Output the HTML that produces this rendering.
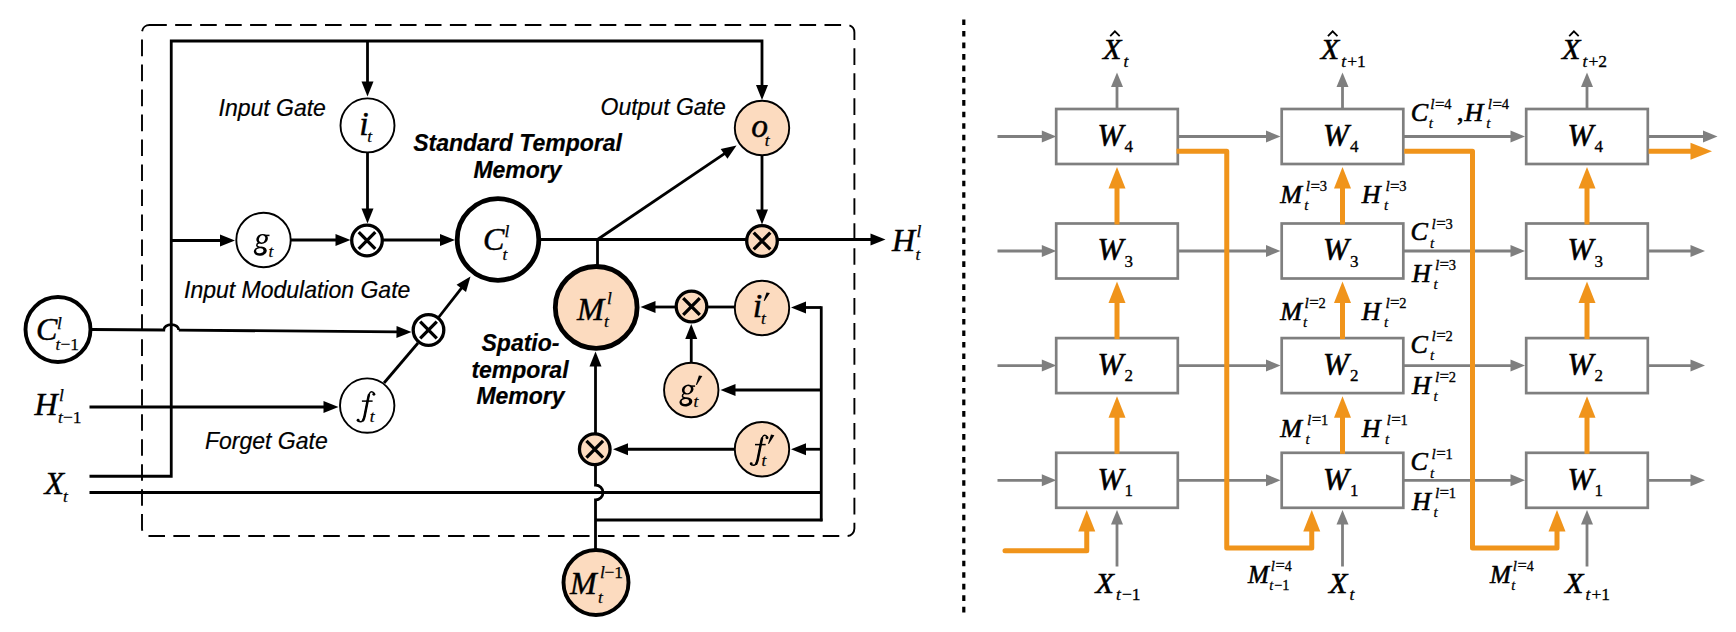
<!DOCTYPE html>
<html><head><meta charset="utf-8"><title>diagram</title>
<style>
html,body{margin:0;padding:0;background:#fff;}
svg{display:block;}
text{fill:#000;stroke:#000;}
.mi{font-family:"Liberation Serif",serif;font-style:italic;}
.mr{font-family:"Liberation Serif",serif;}
.si{font-family:"Liberation Sans",sans-serif;font-style:italic;}
.sbi{font-family:"Liberation Sans",sans-serif;font-style:italic;font-weight:bold;}
</style></head>
<body>
<svg width="1736" height="632" viewBox="0 0 1736 632">
<rect x="0" y="0" width="1736" height="632" fill="#fff"/>
<path d="M150.2,25 L846.9,25 A7.5,7.5 0 0 1 854.4,32.5 L854.4,528.5 A7.5,7.5 0 0 1 846.9,536 L149.5,536 A7.5,7.5 0 0 1 142,528.5 L142,32.5 A7.5,7.5 0 0 1 149.5,25 L150.2,25" fill="none" stroke="#000" stroke-width="1.9" stroke-dasharray="16.6 8.374"/>
<line x1="963.8" y1="19.5" x2="963.8" y2="612.4" stroke="#000" stroke-width="3.2" stroke-dasharray="5.6 5.916"/>
<path d="M89.50,476.25 L171.25,476.25 L171.25,41.00 L762.00,41.00 L762.00,86.00" fill="none" stroke="#000" stroke-width="2.8" stroke-linejoin="miter"/><polygon points="762.00,100.00 756.00,85.00 768.00,85.00" fill="#000"/>
<path d="M367.50,41.00 L367.50,82.50" fill="none" stroke="#000" stroke-width="2.8" /><polygon points="367.50,96.50 361.50,81.50 373.50,81.50" fill="#000"/>
<path d="M367.50,152.00 L367.50,209.50" fill="none" stroke="#000" stroke-width="2.8" /><polygon points="367.50,223.50 361.50,208.50 373.50,208.50" fill="#000"/>
<path d="M171.25,240.50 L221.00,240.50" fill="none" stroke="#000" stroke-width="2.8" /><polygon points="235.00,240.50 220.00,246.50 220.00,234.50" fill="#000"/>
<path d="M291.00,240.00 L336.50,240.00" fill="none" stroke="#000" stroke-width="2.8" /><polygon points="350.50,240.00 335.50,246.00 335.50,234.00" fill="#000"/>
<path d="M383.00,240.00 L441.00,240.00" fill="none" stroke="#000" stroke-width="2.8" /><polygon points="455.00,240.00 440.00,246.00 440.00,234.00" fill="#000"/>
<path d="M538.00,239.50 L746.00,239.50" fill="none" stroke="#000" stroke-width="2.8" />
<path d="M778.00,239.50 L871.50,239.50" fill="none" stroke="#000" stroke-width="2.8" /><polygon points="885.50,239.50 870.50,245.50 870.50,233.50" fill="#000"/>
<path d="M762.00,155.00 L762.00,210.50" fill="none" stroke="#000" stroke-width="2.8" /><polygon points="762.00,224.50 756.00,209.50 768.00,209.50" fill="#000"/>
<path d="M597.50,239.50 L597.50,266.00" fill="none" stroke="#000" stroke-width="2.8" />
<path d="M597.50,239.50 L724.90,153.34" fill="none" stroke="#000" stroke-width="2.8" /><polygon points="736.50,145.50 727.44,158.87 720.71,148.93" fill="#000"/>
<path d="M92,329.5 L163.75,330 A7.5,5.5 0 0 1 178.75,330.1" fill="none" stroke="#000" stroke-width="2.8"/>
<path d="M178.75,330.10 L397.50,331.89" fill="none" stroke="#000" stroke-width="2.8" /><polygon points="411.50,332.00 396.45,337.88 396.55,325.88" fill="#000"/>
<path d="M89.50,407.00 L324.50,407.00" fill="none" stroke="#000" stroke-width="2.8" /><polygon points="338.50,407.00 323.50,413.00 323.50,401.00" fill="#000"/>
<path d="M384.00,383.00 L418.00,343.00" fill="none" stroke="#000" stroke-width="2.8" />
<path d="M438.50,317.50 L461.89,287.54" fill="none" stroke="#000" stroke-width="2.8" /><polygon points="470.50,276.50 466.00,292.02 456.54,284.63" fill="#000"/>
<path d="M89.50,492.50 L821.25,492.50" fill="none" stroke="#000" stroke-width="2.8" />
<path d="M821.25,306.25 L821.25,521.25" fill="none" stroke="#000" stroke-width="2.8" />
<path d="M595.50,520.00 L822.50,520.00" fill="none" stroke="#000" stroke-width="2.8" />
<path d="M821.25,307.50 L805.00,307.50" fill="none" stroke="#000" stroke-width="2.8" /><polygon points="791.00,307.50 806.00,301.50 806.00,313.50" fill="#000"/>
<path d="M821.25,390.00 L734.50,390.00" fill="none" stroke="#000" stroke-width="2.8" /><polygon points="720.50,390.00 735.50,384.00 735.50,396.00" fill="#000"/>
<path d="M821.25,449.25 L805.00,449.25" fill="none" stroke="#000" stroke-width="2.8" /><polygon points="791.00,449.25 806.00,443.25 806.00,455.25" fill="#000"/>
<path d="M734.00,449.25 L627.00,449.25" fill="none" stroke="#000" stroke-width="2.8" /><polygon points="613.00,449.25 628.00,443.25 628.00,455.25" fill="#000"/>
<path d="M707.00,307.00 L735.00,307.00" fill="none" stroke="#000" stroke-width="2.8" />
<path d="M675.00,307.00 L654.50,307.00" fill="none" stroke="#000" stroke-width="2.8" /><polygon points="640.50,307.00 655.50,301.00 655.50,313.00" fill="#000"/>
<path d="M691.25,362.00 L691.25,338.00" fill="none" stroke="#000" stroke-width="2.8" /><polygon points="691.25,324.00 697.25,339.00 685.25,339.00" fill="#000"/>
<path d="M595.5,550 L595.5,500 A7.5,7.5 0 0 0 595.5,485 L595.5,466" fill="none" stroke="#000" stroke-width="2.8"/>
<path d="M595.50,433.00 L595.50,365.50" fill="none" stroke="#000" stroke-width="2.8" /><polygon points="595.50,351.50 601.50,366.50 589.50,366.50" fill="#000"/>
<circle cx="367.5" cy="125.4" r="27.0" fill="#fff" stroke="#000" stroke-width="1.9"/>
<circle cx="263.5" cy="240" r="27.2" fill="#fff" stroke="#000" stroke-width="1.9"/>
<circle cx="367.2" cy="405.6" r="27.2" fill="#fff" stroke="#000" stroke-width="1.9"/>
<circle cx="762" cy="128" r="27.2" fill="#FCDBBF" stroke="#000" stroke-width="1.9"/>
<circle cx="762" cy="308" r="27.2" fill="#FCDBBF" stroke="#000" stroke-width="1.9"/>
<circle cx="691.25" cy="390" r="27.2" fill="#FCDBBF" stroke="#000" stroke-width="1.9"/>
<circle cx="762" cy="449.25" r="27.2" fill="#FCDBBF" stroke="#000" stroke-width="1.9"/>
<circle cx="498" cy="239.5" r="40.8" fill="#fff" stroke="#000" stroke-width="4.8"/>
<circle cx="596.2" cy="307.4" r="40.9" fill="#FCDBBF" stroke="#000" stroke-width="4.8"/>
<circle cx="58" cy="329.5" r="32.5" fill="#fff" stroke="#000" stroke-width="3.9"/>
<circle cx="596" cy="582.5" r="32.5" fill="#FCDBBF" stroke="#000" stroke-width="3.9"/>
<circle cx="367" cy="240.5" r="15.3" fill="#fff" stroke="#000" stroke-width="3.3"/><path d="M358.7,232.2 L375.3,248.8 M375.3,232.2 L358.7,248.8" stroke="#000" stroke-width="3.3" fill="none"/>
<circle cx="428.5" cy="330" r="15.3" fill="#fff" stroke="#000" stroke-width="3.3"/><path d="M420.2,321.7 L436.8,338.3 M436.8,321.7 L420.2,338.3" stroke="#000" stroke-width="3.3" fill="none"/>
<circle cx="762" cy="241" r="15.3" fill="#FCDBBF" stroke="#000" stroke-width="3.3"/><path d="M753.7,232.7 L770.3,249.3 M770.3,232.7 L753.7,249.3" stroke="#000" stroke-width="3.3" fill="none"/>
<circle cx="691.5" cy="306.5" r="15.3" fill="#FCDBBF" stroke="#000" stroke-width="3.3"/><path d="M683.2,298.2 L699.8,314.8 M699.8,298.2 L683.2,314.8" stroke="#000" stroke-width="3.3" fill="none"/>
<circle cx="594.75" cy="449.25" r="15.3" fill="#FCDBBF" stroke="#000" stroke-width="3.3"/><path d="M586.45,440.95 L603.05,457.55 M603.05,440.95 L586.45,457.55" stroke="#000" stroke-width="3.3" fill="none"/>
<text x="218.5" y="116" font-size="23" class="si" text-anchor="start" stroke-width="0.20" >Input Gate</text>
<text x="600.5" y="115" font-size="23" class="si" text-anchor="start" stroke-width="0.20" >Output Gate</text>
<text x="184" y="297.5" font-size="23" class="si" text-anchor="start" stroke-width="0.20" >Input Modulation Gate</text>
<text x="205" y="448.5" font-size="23" class="si" text-anchor="start" stroke-width="0.20" >Forget Gate</text>
<text x="517.5" y="150.5" font-size="23" class="sbi" text-anchor="middle" stroke-width="0.20" >Standard Temporal</text>
<text x="517.5" y="177.5" font-size="23" class="sbi" text-anchor="middle" stroke-width="0.20" >Memory</text>
<text x="520.5" y="351.2" font-size="23" class="sbi" text-anchor="middle" stroke-width="0.20" >Spatio-</text>
<text x="520" y="378.2" font-size="23" class="sbi" text-anchor="middle" stroke-width="0.20" >temporal</text>
<text x="520.5" y="404.4" font-size="23" class="sbi" text-anchor="middle" stroke-width="0.20" >Memory</text>
<text x="359.2" y="135.3" font-size="34" class="mi" text-anchor="start" stroke-width="0.45" >i</text>
<text x="367.3" y="142.3" font-size="17.5" class="mi" text-anchor="start" stroke-width="0.25" >t</text>
<ellipse cx="260.30" cy="251.20" rx="6.5" ry="4.6" fill="#000" transform="rotate(-8 260.30 251.20)"/><ellipse cx="259.80" cy="250.80" rx="3.7" ry="2.5" fill="#fff" transform="rotate(-8 259.80 250.80)"/><path d="M259.10,242.50 C255.70,244.30 256.10,246.70 259.60,247.30" fill="none" stroke="#000" stroke-width="1.5"/><ellipse cx="262.10" cy="238.90" rx="5.9" ry="4.9" fill="#000" transform="rotate(-18 262.10 238.90)"/><ellipse cx="262.10" cy="238.90" rx="3.0" ry="3.7" fill="#fff" transform="rotate(22 262.10 238.90)"/><path d="M265.70,235.40 L269.50,235.40" stroke="#000" stroke-width="1.5" fill="none"/>
<text x="268.5" y="256.5" font-size="17.5" class="mi" text-anchor="start" stroke-width="0.25" >t</text>
<path d="M374.30,394.30 C373.90,392.30 371.90,391.40 370.50,392.10 C368.80,393.00 368.30,397.00 367.60,401.00 L364.60,416.00 C363.80,419.50 362.50,421.90 360.30,421.80 C358.90,421.70 357.90,421.10 357.70,420.30" fill="none" stroke="#000" stroke-width="1.5" stroke-linecap="round"/><path d="M368.90,395.00 C368.40,397.00 368.00,399.00 367.60,401.00 L364.60,416.00 C364.30,417.50 363.80,419.10 363.10,420.30" fill="none" stroke="#000" stroke-width="2.5" stroke-linecap="round"/><path d="M361.90,401.10 L372.60,401.10" stroke="#000" stroke-width="1.5" fill="none"/><circle cx="373.90" cy="394.20" r="1.45" fill="#000"/><circle cx="358.10" cy="420.20" r="1.45" fill="#000"/>
<text x="369.8" y="422" font-size="17.5" class="mi" text-anchor="start" stroke-width="0.25" >t</text>
<text x="751.2" y="136.9" font-size="33.5" class="mi" text-anchor="start" stroke-width="0.45" >o</text>
<text x="764.8" y="146" font-size="17.5" class="mi" text-anchor="start" stroke-width="0.25" >t</text>
<text x="752.8" y="317.3" font-size="34" class="mi" text-anchor="start" stroke-width="0.45" >i</text>
<text x="761" y="324.3" font-size="17.5" class="mi" text-anchor="start" stroke-width="0.25" >t</text>
<polygon points="766.50,292.40 769.90,293.00 764.60,301.00 763.70,300.70" fill="#000"/>
<ellipse cx="685.90" cy="401.90" rx="6.5" ry="4.6" fill="#000" transform="rotate(-8 685.90 401.90)"/><ellipse cx="685.40" cy="401.50" rx="3.7" ry="2.5" fill="#FCDBBF" transform="rotate(-8 685.40 401.50)"/><path d="M684.70,393.20 C681.30,395.00 681.70,397.40 685.20,398.00" fill="none" stroke="#000" stroke-width="1.5"/><ellipse cx="687.70" cy="389.60" rx="5.9" ry="4.9" fill="#000" transform="rotate(-18 687.70 389.60)"/><ellipse cx="687.70" cy="389.60" rx="3.0" ry="3.7" fill="#FCDBBF" transform="rotate(22 687.70 389.60)"/><path d="M691.30,386.10 L695.10,386.10" stroke="#000" stroke-width="1.5" fill="none"/>
<text x="693.5" y="407" font-size="17.5" class="mi" text-anchor="start" stroke-width="0.25" >t</text>
<polygon points="698.90,375.50 702.30,376.10 696.80,385.00 695.90,384.70" fill="#000"/>
<path d="M767.40,437.80 C767.00,435.80 765.00,434.90 763.60,435.60 C761.90,436.50 761.40,440.50 760.70,444.50 L757.70,459.50 C756.90,463.00 755.60,465.40 753.40,465.30 C752.00,465.20 751.00,464.60 750.80,463.80" fill="none" stroke="#000" stroke-width="1.5" stroke-linecap="round"/><path d="M762.00,438.50 C761.50,440.50 761.10,442.50 760.70,444.50 L757.70,459.50 C757.40,461.00 756.90,462.60 756.20,463.80" fill="none" stroke="#000" stroke-width="2.5" stroke-linecap="round"/><path d="M755.00,444.60 L765.70,444.60" stroke="#000" stroke-width="1.5" fill="none"/><circle cx="767.00" cy="437.70" r="1.45" fill="#000"/><circle cx="751.20" cy="463.70" r="1.45" fill="#000"/>
<text x="761.5" y="466" font-size="17.5" class="mi" text-anchor="start" stroke-width="0.25" >t</text>
<polygon points="771.00,434.60 774.40,435.20 768.90,444.10 768.00,443.80" fill="#000"/>
<text x="483" y="250" font-size="32" class="mi" text-anchor="start" stroke-width="0.45" >C</text>
<text x="502.5" y="260" font-size="17.5" class="mi" text-anchor="start" stroke-width="0.25" >t</text>
<text x="504.5" y="237" font-size="17.5" class="mi" text-anchor="start" stroke-width="0.25" >l</text>
<text x="577" y="319.5" font-size="32.5" class="mi" text-anchor="start" stroke-width="0.45" >M</text>
<text x="604" y="327.2" font-size="17.5" class="mi" text-anchor="start" stroke-width="0.25" >t</text>
<text x="607" y="304" font-size="17.5" class="mi" text-anchor="start" stroke-width="0.25" >l</text>
<text x="36" y="340" font-size="32" class="mi" text-anchor="start" stroke-width="0.45" >C</text>
<text x="55.5" y="349.5" font-size="17.5" class="mi" text-anchor="start" stroke-width="0.25" >t</text>
<text x="60.5" y="349.5" font-size="17.5" class="mr" text-anchor="start" stroke-width="0.25" >−1</text>
<text x="57" y="328.5" font-size="17.5" class="mi" text-anchor="start" stroke-width="0.25" >l</text>
<text x="570" y="594" font-size="32" class="mi" text-anchor="start" stroke-width="0.45" >M</text>
<text x="598" y="603" font-size="17.5" class="mi" text-anchor="start" stroke-width="0.25" >t</text>
<text x="600" y="578" font-size="17.5" class="mi" text-anchor="start" stroke-width="0.25" >l</text>
<text x="604.5" y="578" font-size="17.5" class="mr" text-anchor="start" stroke-width="0.25" >−1</text>
<text x="34.5" y="415" font-size="32" class="mi" text-anchor="start" stroke-width="0.45" >H</text>
<text x="58" y="423" font-size="17.5" class="mi" text-anchor="start" stroke-width="0.25" >t</text>
<text x="63" y="423" font-size="17.5" class="mr" text-anchor="start" stroke-width="0.25" >−1</text>
<text x="59" y="401" font-size="17.5" class="mi" text-anchor="start" stroke-width="0.25" >l</text>
<text x="44.5" y="493.75" font-size="32" class="mi" text-anchor="start" stroke-width="0.45" >X</text>
<text x="63" y="502" font-size="17.5" class="mi" text-anchor="start" stroke-width="0.25" >t</text>
<text x="892" y="251" font-size="32" class="mi" text-anchor="start" stroke-width="0.45" >H</text>
<text x="915.5" y="259.5" font-size="17.5" class="mi" text-anchor="start" stroke-width="0.25" >t</text>
<text x="916.5" y="236.5" font-size="17.5" class="mi" text-anchor="start" stroke-width="0.25" >l</text>
<path d="M1117.00,566.50 L1117.00,523.50" fill="none" stroke="#7f7f7f" stroke-width="2.8" /><polygon points="1117.00,510.00 1123.00,524.50 1111.00,524.50" fill="#7f7f7f"/>
<path d="M1117.00,109.00 L1117.00,86.00" fill="none" stroke="#7f7f7f" stroke-width="2.8" /><polygon points="1117.00,72.50 1123.00,87.00 1111.00,87.00" fill="#7f7f7f"/>
<path d="M1342.50,566.50 L1342.50,523.50" fill="none" stroke="#7f7f7f" stroke-width="2.8" /><polygon points="1342.50,510.00 1348.50,524.50 1336.50,524.50" fill="#7f7f7f"/>
<path d="M1342.50,109.00 L1342.50,86.00" fill="none" stroke="#7f7f7f" stroke-width="2.8" /><polygon points="1342.50,72.50 1348.50,87.00 1336.50,87.00" fill="#7f7f7f"/>
<path d="M1587.00,566.50 L1587.00,523.50" fill="none" stroke="#7f7f7f" stroke-width="2.8" /><polygon points="1587.00,510.00 1593.00,524.50 1581.00,524.50" fill="#7f7f7f"/>
<path d="M1587.00,109.00 L1587.00,86.00" fill="none" stroke="#7f7f7f" stroke-width="2.8" /><polygon points="1587.00,72.50 1593.00,87.00 1581.00,87.00" fill="#7f7f7f"/>
<path d="M997.50,136.50 L1042.80,136.50" fill="none" stroke="#7f7f7f" stroke-width="2.8" /><polygon points="1056.30,136.50 1041.80,142.50 1041.80,130.50" fill="#7f7f7f"/>
<path d="M1178.00,136.50 L1267.00,136.50" fill="none" stroke="#7f7f7f" stroke-width="2.8" /><polygon points="1280.50,136.50 1266.00,142.50 1266.00,130.50" fill="#7f7f7f"/>
<path d="M1403.00,136.50 L1511.50,136.50" fill="none" stroke="#7f7f7f" stroke-width="2.8" /><polygon points="1525.00,136.50 1510.50,142.50 1510.50,130.50" fill="#7f7f7f"/>
<path d="M1648.00,136.50 L1704.00,136.50" fill="none" stroke="#7f7f7f" stroke-width="2.8" /><polygon points="1717.50,136.50 1703.00,142.50 1703.00,130.50" fill="#7f7f7f"/>
<path d="M997.50,251.00 L1042.80,251.00" fill="none" stroke="#7f7f7f" stroke-width="2.8" /><polygon points="1056.30,251.00 1041.80,257.00 1041.80,245.00" fill="#7f7f7f"/>
<path d="M1178.00,251.00 L1267.00,251.00" fill="none" stroke="#7f7f7f" stroke-width="2.8" /><polygon points="1280.50,251.00 1266.00,257.00 1266.00,245.00" fill="#7f7f7f"/>
<path d="M1403.00,251.00 L1511.50,251.00" fill="none" stroke="#7f7f7f" stroke-width="2.8" /><polygon points="1525.00,251.00 1510.50,257.00 1510.50,245.00" fill="#7f7f7f"/>
<path d="M1648.00,251.00 L1691.50,251.00" fill="none" stroke="#7f7f7f" stroke-width="2.8" /><polygon points="1705.00,251.00 1690.50,257.00 1690.50,245.00" fill="#7f7f7f"/>
<path d="M997.50,365.60 L1042.80,365.60" fill="none" stroke="#7f7f7f" stroke-width="2.8" /><polygon points="1056.30,365.60 1041.80,371.60 1041.80,359.60" fill="#7f7f7f"/>
<path d="M1178.00,365.60 L1267.00,365.60" fill="none" stroke="#7f7f7f" stroke-width="2.8" /><polygon points="1280.50,365.60 1266.00,371.60 1266.00,359.60" fill="#7f7f7f"/>
<path d="M1403.00,365.60 L1511.50,365.60" fill="none" stroke="#7f7f7f" stroke-width="2.8" /><polygon points="1525.00,365.60 1510.50,371.60 1510.50,359.60" fill="#7f7f7f"/>
<path d="M1648.00,365.60 L1691.50,365.60" fill="none" stroke="#7f7f7f" stroke-width="2.8" /><polygon points="1705.00,365.60 1690.50,371.60 1690.50,359.60" fill="#7f7f7f"/>
<path d="M997.50,480.30 L1042.80,480.30" fill="none" stroke="#7f7f7f" stroke-width="2.8" /><polygon points="1056.30,480.30 1041.80,486.30 1041.80,474.30" fill="#7f7f7f"/>
<path d="M1178.00,480.30 L1267.00,480.30" fill="none" stroke="#7f7f7f" stroke-width="2.8" /><polygon points="1280.50,480.30 1266.00,486.30 1266.00,474.30" fill="#7f7f7f"/>
<path d="M1403.00,480.30 L1511.50,480.30" fill="none" stroke="#7f7f7f" stroke-width="2.8" /><polygon points="1525.00,480.30 1510.50,486.30 1510.50,474.30" fill="#7f7f7f"/>
<path d="M1648.00,480.30 L1691.50,480.30" fill="none" stroke="#7f7f7f" stroke-width="2.8" /><polygon points="1705.00,480.30 1690.50,486.30 1690.50,474.30" fill="#7f7f7f"/>
<rect x="1056.20" y="109.00" width="121.6" height="55.0" fill="none" stroke="#7f7f7f" stroke-width="2.7"/>
<rect x="1056.20" y="223.50" width="121.6" height="55.0" fill="none" stroke="#7f7f7f" stroke-width="2.7"/>
<rect x="1056.20" y="338.10" width="121.6" height="55.0" fill="none" stroke="#7f7f7f" stroke-width="2.7"/>
<rect x="1056.20" y="452.80" width="121.6" height="55.0" fill="none" stroke="#7f7f7f" stroke-width="2.7"/>
<rect x="1281.70" y="109.00" width="121.6" height="55.0" fill="none" stroke="#7f7f7f" stroke-width="2.7"/>
<rect x="1281.70" y="223.50" width="121.6" height="55.0" fill="none" stroke="#7f7f7f" stroke-width="2.7"/>
<rect x="1281.70" y="338.10" width="121.6" height="55.0" fill="none" stroke="#7f7f7f" stroke-width="2.7"/>
<rect x="1281.70" y="452.80" width="121.6" height="55.0" fill="none" stroke="#7f7f7f" stroke-width="2.7"/>
<rect x="1526.20" y="109.00" width="121.6" height="55.0" fill="none" stroke="#7f7f7f" stroke-width="2.7"/>
<rect x="1526.20" y="223.50" width="121.6" height="55.0" fill="none" stroke="#7f7f7f" stroke-width="2.7"/>
<rect x="1526.20" y="338.10" width="121.6" height="55.0" fill="none" stroke="#7f7f7f" stroke-width="2.7"/>
<rect x="1526.20" y="452.80" width="121.6" height="55.0" fill="none" stroke="#7f7f7f" stroke-width="2.7"/>
<path d="M1117.00,224.50 L1117.00,187.60" fill="none" stroke="#F0941B" stroke-width="5" /><polygon points="1117.00,167.10 1125.50,188.60 1108.50,188.60" fill="#F0941B"/>
<path d="M1117.00,339.10 L1117.00,302.10" fill="none" stroke="#F0941B" stroke-width="5" /><polygon points="1117.00,281.60 1125.50,303.10 1108.50,303.10" fill="#F0941B"/>
<path d="M1117.00,453.80 L1117.00,416.70" fill="none" stroke="#F0941B" stroke-width="5" /><polygon points="1117.00,396.20 1125.50,417.70 1108.50,417.70" fill="#F0941B"/>
<path d="M1342.50,224.50 L1342.50,187.60" fill="none" stroke="#F0941B" stroke-width="5" /><polygon points="1342.50,167.10 1351.00,188.60 1334.00,188.60" fill="#F0941B"/>
<path d="M1342.50,339.10 L1342.50,302.10" fill="none" stroke="#F0941B" stroke-width="5" /><polygon points="1342.50,281.60 1351.00,303.10 1334.00,303.10" fill="#F0941B"/>
<path d="M1342.50,453.80 L1342.50,416.70" fill="none" stroke="#F0941B" stroke-width="5" /><polygon points="1342.50,396.20 1351.00,417.70 1334.00,417.70" fill="#F0941B"/>
<path d="M1587.00,224.50 L1587.00,187.60" fill="none" stroke="#F0941B" stroke-width="5" /><polygon points="1587.00,167.10 1595.50,188.60 1578.50,188.60" fill="#F0941B"/>
<path d="M1587.00,339.10 L1587.00,302.10" fill="none" stroke="#F0941B" stroke-width="5" /><polygon points="1587.00,281.60 1595.50,303.10 1578.50,303.10" fill="#F0941B"/>
<path d="M1587.00,453.80 L1587.00,416.70" fill="none" stroke="#F0941B" stroke-width="5" /><polygon points="1587.00,396.20 1595.50,417.70 1578.50,417.70" fill="#F0941B"/>
<path d="M1005.00,550.70 L1086.75,550.70 L1086.75,530.50" fill="none" stroke="#F0941B" stroke-width="5" stroke-linecap="round" stroke-linejoin="round"/><polygon points="1086.75,510.00 1095.25,531.50 1078.25,531.50" fill="#F0941B"/>
<path d="M1176.50,151.25 L1226.75,151.25 L1226.75,548.00 L1311.75,548.00 L1311.75,530.50" fill="none" stroke="#F0941B" stroke-width="5" stroke-linejoin="round"/><polygon points="1311.75,510.00 1320.25,531.50 1303.25,531.50" fill="#F0941B"/>
<path d="M1404.20,151.25 L1472.50,151.25 L1472.50,548.00 L1557.00,548.00 L1557.00,530.50" fill="none" stroke="#F0941B" stroke-width="5" stroke-linejoin="round"/><polygon points="1557.00,510.00 1565.50,531.50 1548.50,531.50" fill="#F0941B"/>
<path d="M1648.60,151.25 L1691.50,151.25" fill="none" stroke="#F0941B" stroke-width="5" /><polygon points="1712.00,151.25 1690.50,159.75 1690.50,142.75" fill="#F0941B"/>
<text x="1097.5" y="145.7" font-size="31" class="mi" text-anchor="start" stroke-width="0.60" >W</text>
<text x="1124.5" y="152.1" font-size="17" class="mr" text-anchor="start" stroke-width="0.33" >4</text>
<text x="1097.5" y="260.2" font-size="31" class="mi" text-anchor="start" stroke-width="0.60" >W</text>
<text x="1124.5" y="266.6" font-size="17" class="mr" text-anchor="start" stroke-width="0.33" >3</text>
<text x="1097.5" y="374.8" font-size="31" class="mi" text-anchor="start" stroke-width="0.60" >W</text>
<text x="1124.5" y="381.20000000000005" font-size="17" class="mr" text-anchor="start" stroke-width="0.33" >2</text>
<text x="1097.5" y="489.5" font-size="31" class="mi" text-anchor="start" stroke-width="0.60" >W</text>
<text x="1124.5" y="495.90000000000003" font-size="17" class="mr" text-anchor="start" stroke-width="0.33" >1</text>
<text x="1323.0" y="145.7" font-size="31" class="mi" text-anchor="start" stroke-width="0.60" >W</text>
<text x="1350.0" y="152.1" font-size="17" class="mr" text-anchor="start" stroke-width="0.33" >4</text>
<text x="1323.0" y="260.2" font-size="31" class="mi" text-anchor="start" stroke-width="0.60" >W</text>
<text x="1350.0" y="266.6" font-size="17" class="mr" text-anchor="start" stroke-width="0.33" >3</text>
<text x="1323.0" y="374.8" font-size="31" class="mi" text-anchor="start" stroke-width="0.60" >W</text>
<text x="1350.0" y="381.20000000000005" font-size="17" class="mr" text-anchor="start" stroke-width="0.33" >2</text>
<text x="1323.0" y="489.5" font-size="31" class="mi" text-anchor="start" stroke-width="0.60" >W</text>
<text x="1350.0" y="495.90000000000003" font-size="17" class="mr" text-anchor="start" stroke-width="0.33" >1</text>
<text x="1567.5" y="145.7" font-size="31" class="mi" text-anchor="start" stroke-width="0.60" >W</text>
<text x="1594.5" y="152.1" font-size="17" class="mr" text-anchor="start" stroke-width="0.33" >4</text>
<text x="1567.5" y="260.2" font-size="31" class="mi" text-anchor="start" stroke-width="0.60" >W</text>
<text x="1594.5" y="266.6" font-size="17" class="mr" text-anchor="start" stroke-width="0.33" >3</text>
<text x="1567.5" y="374.8" font-size="31" class="mi" text-anchor="start" stroke-width="0.60" >W</text>
<text x="1594.5" y="381.20000000000005" font-size="17" class="mr" text-anchor="start" stroke-width="0.33" >2</text>
<text x="1567.5" y="489.5" font-size="31" class="mi" text-anchor="start" stroke-width="0.60" >W</text>
<text x="1594.5" y="495.90000000000003" font-size="17" class="mr" text-anchor="start" stroke-width="0.33" >1</text>
<text x="1103" y="58.75" font-size="30" class="mi" text-anchor="start" stroke-width="0.60" >X</text><path d="M1110.20,36.1 L1114.90,31.3 L1119.70,36.1" fill="none" stroke="#000" stroke-width="1.8" stroke-linejoin="miter"/><text x="1123.5" y="66.5" font-size="17.5" class="mi" text-anchor="start" stroke-width="0.33" >t</text>
<text x="1320.75" y="58.75" font-size="30" class="mi" text-anchor="start" stroke-width="0.60" >X</text><path d="M1327.95,36.1 L1332.65,31.3 L1337.45,36.1" fill="none" stroke="#000" stroke-width="1.8" stroke-linejoin="miter"/><text x="1341.25" y="66.5" font-size="17.5" class="mi" text-anchor="start" stroke-width="0.33" >t</text><text x="1347.25" y="66.5" font-size="17.5" class="mr" text-anchor="start" stroke-width="0.33" >+1</text>
<text x="1562" y="58.75" font-size="30" class="mi" text-anchor="start" stroke-width="0.60" >X</text><path d="M1569.20,36.1 L1573.90,31.3 L1578.70,36.1" fill="none" stroke="#000" stroke-width="1.8" stroke-linejoin="miter"/><text x="1582.5" y="66.5" font-size="17.5" class="mi" text-anchor="start" stroke-width="0.33" >t</text><text x="1588.5" y="66.5" font-size="17.5" class="mr" text-anchor="start" stroke-width="0.33" >+2</text>
<text x="1095.5" y="592.5" font-size="30" class="mi" text-anchor="start" stroke-width="0.60" >X</text><text x="1116.0" y="599.5" font-size="17.5" class="mi" text-anchor="start" stroke-width="0.33" >t</text><text x="1122.0" y="599.5" font-size="17.5" class="mr" text-anchor="start" stroke-width="0.33" >−1</text>
<text x="1329" y="592.5" font-size="30" class="mi" text-anchor="start" stroke-width="0.60" >X</text><text x="1349.5" y="599.5" font-size="17.5" class="mi" text-anchor="start" stroke-width="0.33" >t</text>
<text x="1565" y="592.5" font-size="30" class="mi" text-anchor="start" stroke-width="0.60" >X</text><text x="1585.5" y="599.5" font-size="17.5" class="mi" text-anchor="start" stroke-width="0.33" >t</text><text x="1591.5" y="599.5" font-size="17.5" class="mr" text-anchor="start" stroke-width="0.33" >+1</text>
<text x="1280.2" y="203.1" font-size="26" class="mi" text-anchor="start" stroke-width="0.60" >M</text><text x="1305.8" y="191.29999999999998" font-size="15.5" class="mi" text-anchor="start" stroke-width="0.30" >l</text><text x="1310.5" y="191.5" font-size="17.0" class="mr" text-anchor="start" stroke-width="0.30" >=</text><text x="1319.7" y="191.29999999999998" font-size="14.5" class="mr" text-anchor="start" stroke-width="0.30" >3</text><text x="1304.3" y="210.29999999999998" font-size="15.0" class="mi" text-anchor="start" stroke-width="0.25" >t</text>
<text x="1361.8" y="203.1" font-size="26" class="mi" text-anchor="start" stroke-width="0.60" >H</text><text x="1385.3999999999999" y="191.29999999999998" font-size="15.5" class="mi" text-anchor="start" stroke-width="0.30" >l</text><text x="1390.1" y="191.5" font-size="17.0" class="mr" text-anchor="start" stroke-width="0.30" >=</text><text x="1399.3" y="191.29999999999998" font-size="14.5" class="mr" text-anchor="start" stroke-width="0.30" >3</text><text x="1383.8999999999999" y="210.29999999999998" font-size="15.0" class="mi" text-anchor="start" stroke-width="0.25" >t</text>
<text x="1280.2" y="319.8" font-size="26" class="mi" text-anchor="start" stroke-width="0.60" >M</text><text x="1304.6" y="308.0" font-size="15.5" class="mi" text-anchor="start" stroke-width="0.30" >l</text><text x="1309.3" y="308.2" font-size="17.0" class="mr" text-anchor="start" stroke-width="0.30" >=</text><text x="1318.5" y="308.0" font-size="14.5" class="mr" text-anchor="start" stroke-width="0.30" >2</text><text x="1303.1" y="327.0" font-size="15.0" class="mi" text-anchor="start" stroke-width="0.25" >t</text>
<text x="1361.8" y="319.8" font-size="26" class="mi" text-anchor="start" stroke-width="0.60" >H</text><text x="1385.3999999999999" y="308.0" font-size="15.5" class="mi" text-anchor="start" stroke-width="0.30" >l</text><text x="1390.1" y="308.2" font-size="17.0" class="mr" text-anchor="start" stroke-width="0.30" >=</text><text x="1399.3" y="308.0" font-size="14.5" class="mr" text-anchor="start" stroke-width="0.30" >2</text><text x="1383.8999999999999" y="327.0" font-size="15.0" class="mi" text-anchor="start" stroke-width="0.25" >t</text>
<text x="1280.2" y="436.8" font-size="26" class="mi" text-anchor="start" stroke-width="0.60" >M</text><text x="1307.0" y="425.0" font-size="15.5" class="mi" text-anchor="start" stroke-width="0.30" >l</text><text x="1311.7" y="425.2" font-size="17.0" class="mr" text-anchor="start" stroke-width="0.30" >=</text><text x="1320.9" y="425.0" font-size="14.5" class="mr" text-anchor="start" stroke-width="0.30" >1</text><text x="1305.5" y="444.0" font-size="15.0" class="mi" text-anchor="start" stroke-width="0.25" >t</text>
<text x="1361.8" y="436.8" font-size="26" class="mi" text-anchor="start" stroke-width="0.60" >H</text><text x="1386.6" y="425.0" font-size="15.5" class="mi" text-anchor="start" stroke-width="0.30" >l</text><text x="1391.3" y="425.2" font-size="17.0" class="mr" text-anchor="start" stroke-width="0.30" >=</text><text x="1400.5" y="425.0" font-size="14.5" class="mr" text-anchor="start" stroke-width="0.30" >1</text><text x="1385.1" y="444.0" font-size="15.0" class="mi" text-anchor="start" stroke-width="0.25" >t</text>
<text x="1410.8" y="121.25" font-size="26" class="mi" text-anchor="start" stroke-width="0.60" >C</text><text x="1430.3" y="109.45" font-size="15.5" class="mi" text-anchor="start" stroke-width="0.30" >l</text><text x="1435.0" y="109.65" font-size="17.0" class="mr" text-anchor="start" stroke-width="0.30" >=</text><text x="1444.2" y="109.45" font-size="14.5" class="mr" text-anchor="start" stroke-width="0.30" >4</text><text x="1428.8" y="128.45" font-size="15.0" class="mi" text-anchor="start" stroke-width="0.25" >t</text>
<text x="1457" y="121.25" font-size="26" class="mr" text-anchor="start" stroke-width="0.60" >,</text>
<text x="1464.5" y="121.25" font-size="26" class="mi" text-anchor="start" stroke-width="0.60" >H</text><text x="1487.8" y="109.45" font-size="15.5" class="mi" text-anchor="start" stroke-width="0.30" >l</text><text x="1492.5" y="109.65" font-size="17.0" class="mr" text-anchor="start" stroke-width="0.30" >=</text><text x="1501.7" y="109.45" font-size="14.5" class="mr" text-anchor="start" stroke-width="0.30" >4</text><text x="1486.3" y="128.45" font-size="15.0" class="mi" text-anchor="start" stroke-width="0.25" >t</text>
<text x="1410.6" y="240.4" font-size="26" class="mi" text-anchor="start" stroke-width="0.60" >C</text><text x="1431.4999999999998" y="228.6" font-size="15.5" class="mi" text-anchor="start" stroke-width="0.30" >l</text><text x="1436.1999999999998" y="228.8" font-size="17.0" class="mr" text-anchor="start" stroke-width="0.30" >=</text><text x="1445.3999999999999" y="228.6" font-size="14.5" class="mr" text-anchor="start" stroke-width="0.30" >3</text><text x="1429.9999999999998" y="247.6" font-size="15.0" class="mi" text-anchor="start" stroke-width="0.25" >t</text>
<text x="1412" y="281.6" font-size="26" class="mi" text-anchor="start" stroke-width="0.60" >H</text><text x="1434.8999999999999" y="269.8" font-size="15.5" class="mi" text-anchor="start" stroke-width="0.30" >l</text><text x="1439.6" y="270.0" font-size="17.0" class="mr" text-anchor="start" stroke-width="0.30" >=</text><text x="1448.8" y="269.8" font-size="14.5" class="mr" text-anchor="start" stroke-width="0.30" >3</text><text x="1433.3999999999999" y="288.8" font-size="15.0" class="mi" text-anchor="start" stroke-width="0.25" >t</text>
<text x="1410.6" y="352.9" font-size="26" class="mi" text-anchor="start" stroke-width="0.60" >C</text><text x="1431.4999999999998" y="341.09999999999997" font-size="15.5" class="mi" text-anchor="start" stroke-width="0.30" >l</text><text x="1436.1999999999998" y="341.29999999999995" font-size="17.0" class="mr" text-anchor="start" stroke-width="0.30" >=</text><text x="1445.3999999999999" y="341.09999999999997" font-size="14.5" class="mr" text-anchor="start" stroke-width="0.30" >2</text><text x="1429.9999999999998" y="360.09999999999997" font-size="15.0" class="mi" text-anchor="start" stroke-width="0.25" >t</text>
<text x="1412" y="394.0" font-size="26" class="mi" text-anchor="start" stroke-width="0.60" >H</text><text x="1434.8999999999999" y="382.2" font-size="15.5" class="mi" text-anchor="start" stroke-width="0.30" >l</text><text x="1439.6" y="382.4" font-size="17.0" class="mr" text-anchor="start" stroke-width="0.30" >=</text><text x="1448.8" y="382.2" font-size="14.5" class="mr" text-anchor="start" stroke-width="0.30" >2</text><text x="1433.3999999999999" y="401.2" font-size="15.0" class="mi" text-anchor="start" stroke-width="0.25" >t</text>
<text x="1410.6" y="470.4" font-size="26" class="mi" text-anchor="start" stroke-width="0.60" >C</text><text x="1431.4999999999998" y="458.59999999999997" font-size="15.5" class="mi" text-anchor="start" stroke-width="0.30" >l</text><text x="1436.1999999999998" y="458.79999999999995" font-size="17.0" class="mr" text-anchor="start" stroke-width="0.30" >=</text><text x="1445.3999999999999" y="458.59999999999997" font-size="14.5" class="mr" text-anchor="start" stroke-width="0.30" >1</text><text x="1429.9999999999998" y="477.59999999999997" font-size="15.0" class="mi" text-anchor="start" stroke-width="0.25" >t</text>
<text x="1412" y="509.7" font-size="26" class="mi" text-anchor="start" stroke-width="0.60" >H</text><text x="1434.8999999999999" y="497.9" font-size="15.5" class="mi" text-anchor="start" stroke-width="0.30" >l</text><text x="1439.6" y="498.09999999999997" font-size="17.0" class="mr" text-anchor="start" stroke-width="0.30" >=</text><text x="1448.8" y="497.9" font-size="14.5" class="mr" text-anchor="start" stroke-width="0.30" >1</text><text x="1433.3999999999999" y="516.9" font-size="15.0" class="mi" text-anchor="start" stroke-width="0.25" >t</text>
<text x="1248" y="582.5" font-size="25" class="mi" text-anchor="start" stroke-width="0.60" >M</text><text x="1270.8" y="570.7" font-size="15" class="mi" text-anchor="start" stroke-width="0.30" >l</text><text x="1275.5" y="570.9" font-size="16.5" class="mr" text-anchor="start" stroke-width="0.30" >=</text><text x="1284.7" y="570.7" font-size="14.0" class="mr" text-anchor="start" stroke-width="0.30" >4</text><text x="1269.3" y="589.7" font-size="14.5" class="mi" text-anchor="start" stroke-width="0.25" >t</text><text x="1274.0" y="589.7" font-size="14.5" class="mr" text-anchor="start" stroke-width="0.30" >−1</text>
<text x="1490" y="582.5" font-size="25" class="mi" text-anchor="start" stroke-width="0.60" >M</text><text x="1512.8" y="570.7" font-size="15" class="mi" text-anchor="start" stroke-width="0.30" >l</text><text x="1517.5" y="570.9" font-size="16.5" class="mr" text-anchor="start" stroke-width="0.30" >=</text><text x="1526.7" y="570.7" font-size="14.0" class="mr" text-anchor="start" stroke-width="0.30" >4</text><text x="1511.3" y="589.7" font-size="14.5" class="mi" text-anchor="start" stroke-width="0.25" >t</text>
</svg>
</body></html>
